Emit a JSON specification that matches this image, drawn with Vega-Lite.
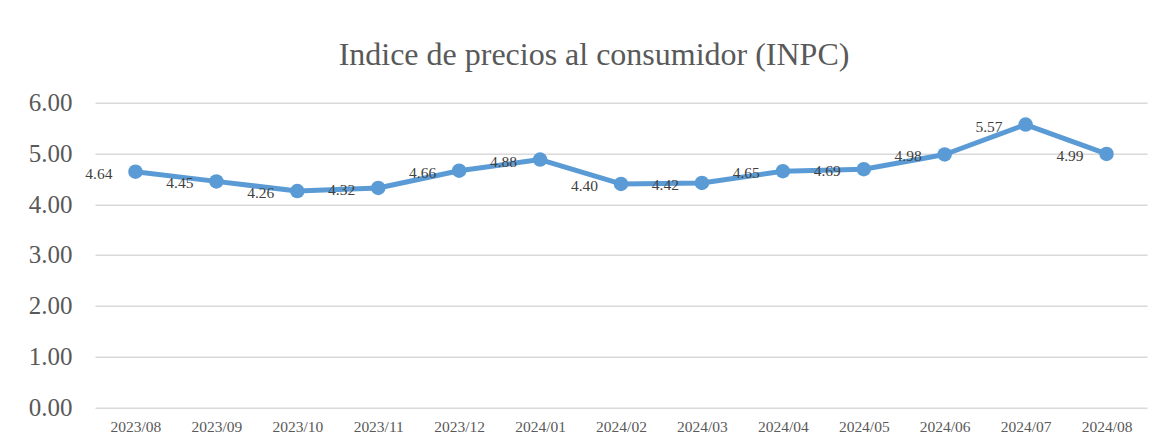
{
  "$schema": "https://vega.github.io/schema/vega-lite/v6.json",
  "autosize": "none",
  "width": 1052,
  "height": 304.6,
  "padding": {"left": 95, "top": 102.7, "right": 16, "bottom": 38},
  "background": "white",
  "title": {
    "text": "Indice de precios al consumidor (INPC)",
    "font": "Liberation Serif",
    "fontSize": 32,
    "fontWeight": "normal",
    "color": "#595959",
    "anchor": "middle",
    "frame": "group",
    "baseline": "alphabetic",
    "offset": -6,
    "dx": -27
  },
  "data": {
    "values": [
      {"mes": "2023/08", "inpc": 4.64},
      {"mes": "2023/09", "inpc": 4.45},
      {"mes": "2023/10", "inpc": 4.26},
      {"mes": "2023/11", "inpc": 4.32},
      {"mes": "2023/12", "inpc": 4.66},
      {"mes": "2024/01", "inpc": 4.88},
      {"mes": "2024/02", "inpc": 4.40},
      {"mes": "2024/03", "inpc": 4.42},
      {"mes": "2024/04", "inpc": 4.65},
      {"mes": "2024/05", "inpc": 4.69},
      {"mes": "2024/06", "inpc": 4.98},
      {"mes": "2024/07", "inpc": 5.57},
      {"mes": "2024/08", "inpc": 4.99}
    ]
  },
  "encoding": {
    "x": {
      "field": "mes",
      "type": "ordinal",
      "sort": null,
      "scale": {"type": "point", "padding": 0.5},
      "axis": {
        "title": null,
        "labelAngle": 0,
        "labelFont": "Liberation Serif",
        "labelFontSize": 15.5,
        "labelColor": "#595959",
        "labelPadding": 12,
        "ticks": false,
        "domain": false,
        "grid": false
      }
    },
    "y": {
      "field": "inpc",
      "type": "quantitative",
      "scale": {"domain": [0, 6], "nice": false, "zero": true},
      "axis": {
        "title": null,
        "values": [0, 1, 2, 3, 4, 5, 6],
        "format": ".2f",
        "labelFont": "Liberation Serif",
        "labelFontSize": 25,
        "labelColor": "#595959",
        "labelPadding": 23,
        "ticks": false,
        "domain": false,
        "grid": true,
        "gridColor": "#D9D9D9",
        "gridWidth": 1.5
      }
    }
  },
  "layer": [
    {
      "mark": {"type": "line", "color": "#5B9BD5", "strokeWidth": 5, "strokeCap": "round", "strokeJoin": "round"}
    },
    {
      "mark": {"type": "point", "filled": true, "color": "#5B9BD5", "opacity": 1, "size": 210}
    },
    {
      "mark": {
        "type": "text",
        "align": "right",
        "baseline": "middle",
        "dx": -23,
        "dy": 2,
        "font": "Liberation Serif",
        "fontSize": 15.5,
        "color": "#404040"
      },
      "encoding": {
        "text": {"field": "inpc", "type": "quantitative", "format": ".2f"}
      }
    }
  ],
  "config": {
    "view": {"stroke": null}
  }
}
